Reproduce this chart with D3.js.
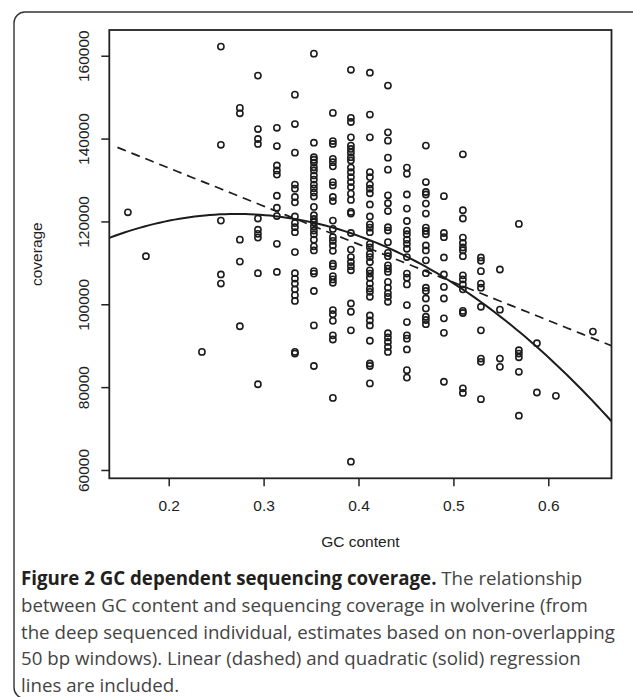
<!DOCTYPE html>
<html>
<head>
<meta charset="utf-8">
<script src="https://cdn.jsdelivr.net/npm/d3@7"></script>
<style>
  body { margin: 0; background: #fff; }
  .tick-label { font-family: "Liberation Sans", Arial, sans-serif; font-size: 15.5px; fill: #222; }
  .caption { font-family: "Open Sans", sans-serif; font-size: 18.7px; fill: #444; }
  .caption .bold { font-weight: bold; fill: #231f20; }
</style>
</head>
<body>
<div id="vis"></div>
<script>
// GC content of each column of windows (x) and the coverage values in that column (y)
var gcContent = [0.157, 0.176, 0.235, 0.255, 0.275, 0.294, 0.314, 0.333, 0.353, 0.373, 0.392,
  0.412, 0.431, 0.451, 0.471, 0.490, 0.510, 0.529, 0.549, 0.569, 0.588, 0.608, 0.647];

var coverage = [
  [122200],
  [111600],
  [88500],
  [162200, 138500, 120200, 107200, 105000],
  [147400, 146100, 115600, 110300, 94700],
  [155200, 142300, 139900, 138700, 120700, 118000, 117000, 116100, 107500, 80700],
  [142600, 138200, 133500, 132300, 131300, 126200, 123300, 121300, 114600, 107800],
  [150600, 143500, 136600, 128900, 127900, 125900, 124600, 121200, 119600, 118600, 117400,
    112600, 107500, 106200, 105000, 103600, 102200, 100800, 88500, 88100],
  [160500, 139000, 135500, 134900, 134200, 133100, 132300, 131100, 130100, 128900, 128000,
    127000, 126000, 123500, 121500, 120600, 119800, 118800, 117800, 116900, 115600, 114000,
    113000, 108000, 107400, 103200, 94900, 85100],
  [146200, 139400, 138700, 135100, 134300, 133300, 129500, 128700, 125900, 124900, 120200,
    118200, 116200, 115300, 114200, 112900, 109800, 109200, 106800, 106000, 105200, 98600,
    97600, 96000, 92500, 91500, 77400],
  [156600, 145000, 144000, 140300, 138300, 137500, 136600, 135500, 134700, 133000, 131900,
    130700, 129500, 128300, 126700, 125200, 122300, 121900, 117200, 113200, 111400, 110200,
    109200, 108200, 100200, 98200, 93700, 62000],
  [155900, 145800, 140300, 131900, 130700, 128900, 127900, 126800, 124100, 121200, 119300,
    118500, 117400, 114600, 113700, 112200, 111400, 110200, 108200, 107400, 106400, 105000,
    103800, 103000, 101800, 97300, 96100, 94900, 91200, 85700, 85100, 80900],
  [152800, 141500, 139500, 135400, 132500, 126300, 124400, 122500, 118600, 117800, 115000,
    112400, 111600, 109400, 108600, 107800, 105400, 104000, 102700, 101800, 100600, 93000,
    92000, 90900, 89700, 88500],
  [133000, 131500, 126500, 123100, 120100, 117800, 116900, 115600, 114600, 113400, 111400,
    107400, 106400, 104800, 99800, 95700, 92500, 91700, 89100, 84100, 82300],
  [138300, 129500, 127100, 126500, 124300, 121900, 118500, 117700, 116900, 114200, 113000,
    110600, 107500, 104000, 103200, 101400, 99000, 97000, 96200, 95200],
  [126100, 117200, 116200, 111300, 107200, 104200, 101400, 96600, 93100, 81300],
  [136200, 122700, 120700, 116100, 114800, 113700, 113000, 111600, 107000, 106000, 104800,
    103600, 98400, 97900, 79700, 78600],
  [111300, 110500, 108000, 105000, 104000, 99400, 93700, 86900, 86100, 77100],
  [108400, 98700, 86900, 84900],
  [119400, 88900, 88100, 87200, 83700, 73100],
  [90600, 78700],
  [77900],
  [93400]
];

var xTicks = [0.2, 0.3, 0.4, 0.5, 0.6];
var yTicks = [60000, 80000, 100000, 120000, 140000, 160000];

// regression fits: intercept, slope (, quadratic term)
var linearFit = [151300, -92000];
var quadraticFit = [98170, 174090, -320600];
var fitStart = 0.146;

var captionBold = 'Figure 2 GC dependent sequencing coverage.';
var captionLines = [
  ' The relationship',
  'between GC content and sequencing coverage in wolverine (from',
  'the deep sequenced individual, estimates based on non-overlapping',
  '50 bp windows). Linear (dashed) and quadratic (solid) regression',
  'lines are included.'
];

var width = 633;
var height = 697;
var plot = { left: 109.3, right: 611.5, top: 30, bottom: 478.3 };

var svg = d3.select('#vis').append('svg')
  .attr('width', width)
  .attr('height', height);

// outer frame of the figure (bottom edge sits just past the page)
svg.append('rect')
  .attr('x', 14)
  .attr('y', 12)
  .attr('width', 700)
  .attr('height', 686.5)
  .attr('rx', 11)
  .attr('fill', 'none')
  .attr('stroke', '#333')
  .attr('stroke-width', 1.4);

// flatten the columns into points
var points = [];
for (var i = 0; i < gcContent.length; i++) {
  for (var j = 0; j < coverage[i].length; j++) {
    points.push({ gc: gcContent[i], cov: coverage[i][j] });
  }
}

// R style 4% padding on each side
function padded(ext) {
  var d = (ext[1] - ext[0]) * 0.04;
  return [ext[0] - d, ext[1] + d];
}

var x = d3.scaleLinear()
  .domain(padded(d3.extent(points, function (d) { return d.gc; })))
  .range([plot.left, plot.right]);

var y = d3.scaleLinear()
  .domain(padded(d3.extent(points, function (d) { return d.cov; })))
  .range([plot.bottom, plot.top]);

svg.append('clipPath')
  .attr('id', 'plotclip')
  .append('rect')
  .attr('x', plot.left)
  .attr('y', plot.top)
  .attr('width', plot.right - plot.left)
  .attr('height', plot.bottom - plot.top);

var g = svg.append('g').attr('clip-path', 'url(#plotclip)');

// points
g.selectAll('circle')
  .data(points)
  .enter()
  .append('circle')
  .attr('cx', function (d) { return x(d.gc); })
  .attr('cy', function (d) { return y(d.cov); })
  .attr('r', 3.1)
  .attr('fill', 'none')
  .attr('stroke', '#1c1c1c')
  .attr('stroke-width', 1.6);

// regression lines
var xs = d3.range(0, 101).map(function (i) {
  return fitStart + (x.domain()[1] - fitStart) * i / 100;
});
var xsFull = d3.range(0, 101).map(function (i) {
  return x.domain()[0] + (x.domain()[1] - x.domain()[0]) * i / 100;
});

var line = d3.line()
  .x(function (d) { return x(d[0]); })
  .y(function (d) { return y(d[1]); });

g.append('path')
  .attr('d', line(xs.map(function (v) { return [v, linearFit[0] + linearFit[1] * v]; })))
  .attr('fill', 'none')
  .attr('stroke', '#1c1c1c')
  .attr('stroke-width', 1.7)
  .attr('stroke-dasharray', '9,6');

g.append('path')
  .attr('d', line(xsFull.map(function (v) {
    return [v, quadraticFit[0] + quadraticFit[1] * v + quadraticFit[2] * v * v];
  })))
  .attr('fill', 'none')
  .attr('stroke', '#1c1c1c')
  .attr('stroke-width', 2);

// plot box
svg.append('rect')
  .attr('x', plot.left)
  .attr('y', plot.top)
  .attr('width', plot.right - plot.left)
  .attr('height', plot.bottom - plot.top)
  .attr('fill', 'none')
  .attr('stroke', '#222')
  .attr('stroke-width', 1.8);

// axes
var xAxis = d3.axisBottom(x).tickValues(xTicks).tickSize(8).tickPadding(6)
  .tickFormat(d3.format('.1f'));
var yAxis = d3.axisLeft(y).tickValues(yTicks).tickSize(8).tickFormat(d3.format('d'));

var gx = svg.append('g')
  .attr('transform', 'translate(0,' + plot.bottom + ')')
  .call(xAxis);
gx.select('.domain').remove();
gx.selectAll('line').attr('stroke', '#222').attr('stroke-width', 1.5);
gx.selectAll('text')
  .attr('class', 'tick-label')
  .attr('y', 33)
  .attr('dy', null);

var gy = svg.append('g')
  .attr('transform', 'translate(' + plot.left + ',0)')
  .call(yAxis);
gy.select('.domain').remove();
gy.selectAll('line').attr('stroke', '#222').attr('stroke-width', 1.5);
gy.selectAll('text')
  .attr('class', 'tick-label')
  .attr('x', null)
  .attr('dy', null)
  .attr('text-anchor', 'middle')
  .attr('transform', 'translate(-20,0) rotate(-90)');

// axis titles
svg.append('text')
  .attr('class', 'tick-label')
  .attr('x', (plot.left + plot.right) / 2)
  .attr('y', 547)
  .attr('text-anchor', 'middle')
  .text('GC content');

svg.append('text')
  .attr('class', 'tick-label')
  .attr('transform', 'translate(42,' + (plot.top + plot.bottom) / 2 + ') rotate(-90)')
  .attr('text-anchor', 'middle')
  .text('coverage');

// caption
var cap = svg.append('text')
  .attr('class', 'caption')
  .attr('x', 21)
  .attr('y', 585);
cap.append('tspan').attr('class', 'bold').text(captionBold);
cap.append('tspan').text(captionLines[0]);

for (var l = 1; l < captionLines.length; l++) {
  svg.append('text')
    .attr('class', 'caption')
    .attr('x', 21)
    .attr('y', 585 + l * 26.8)
    .text(captionLines[l]);
}
</script>
</body>
</html>
